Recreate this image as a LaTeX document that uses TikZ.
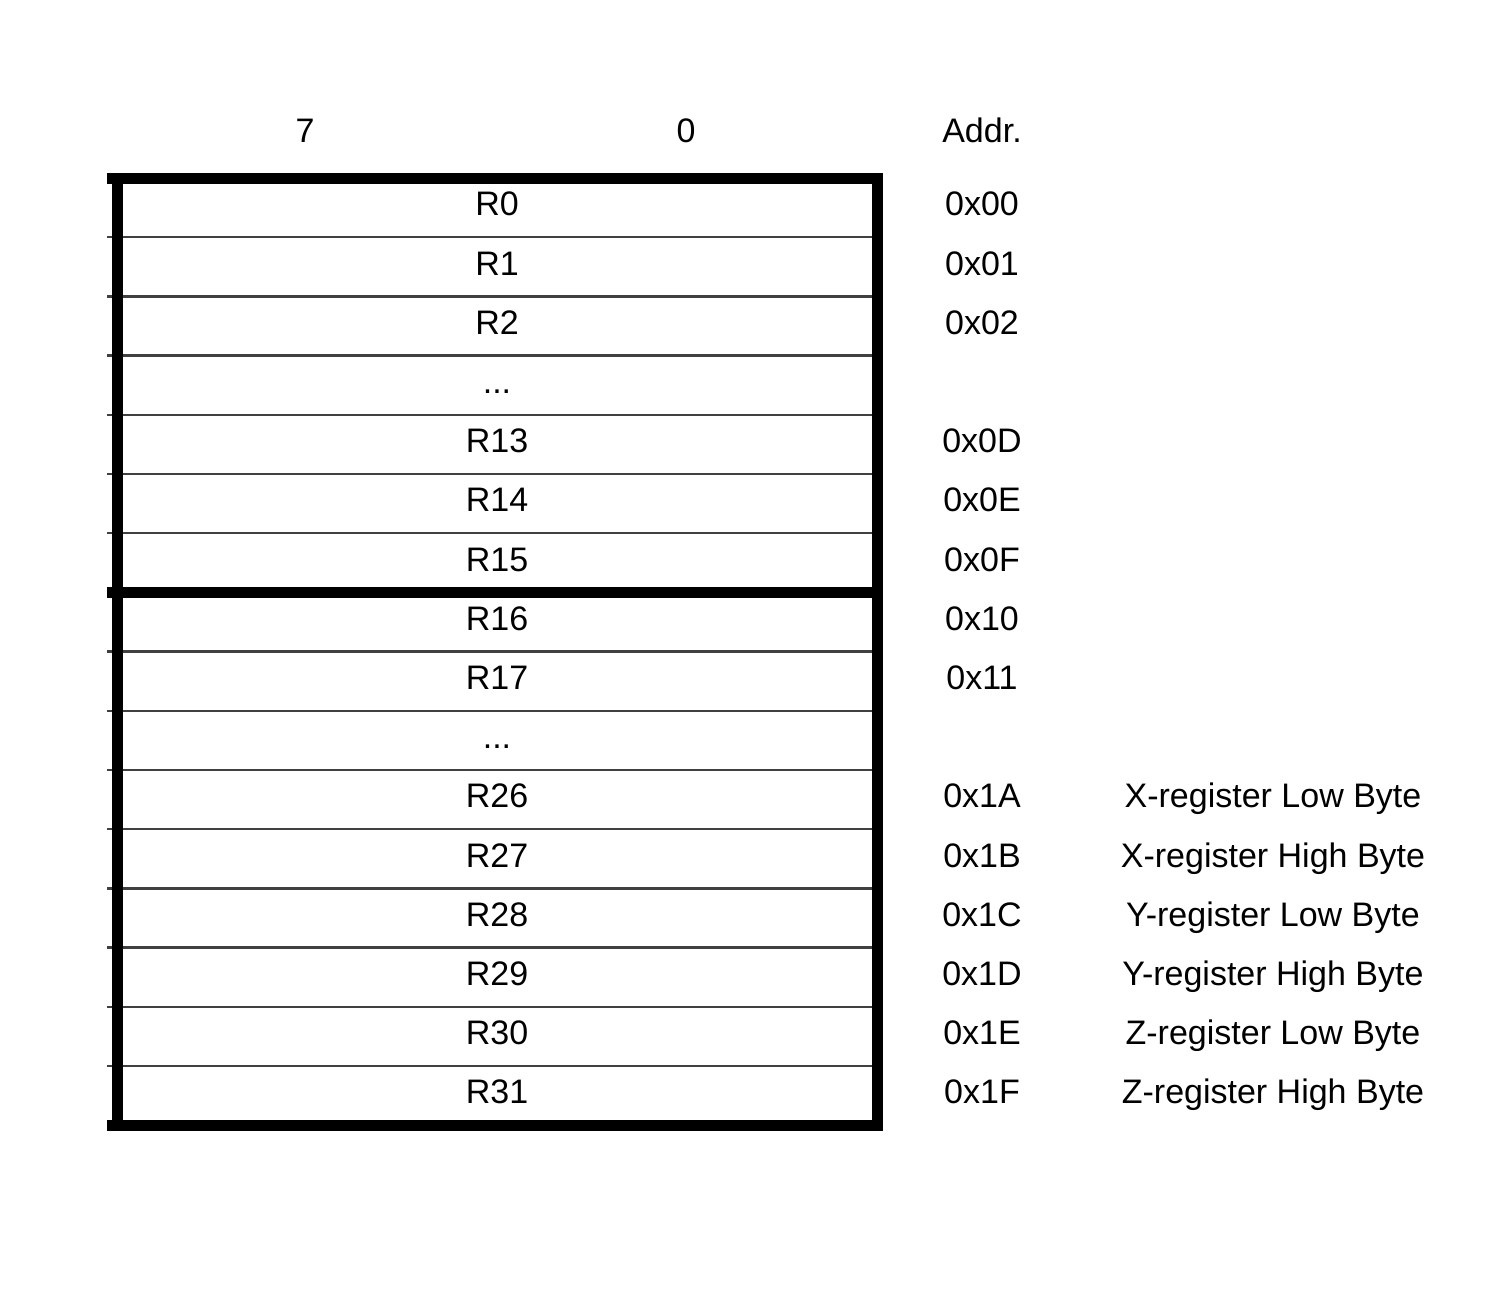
\documentclass[tikz,border=0pt]{standalone}
\usepackage{fontspec}
\setmainfont{Liberation Sans}
\usetikzlibrary{positioning}

\begin{document}
\begin{tikzpicture}[every node/.style={font=\fontsize{17pt}{20pt}\selectfont,text height=12.2pt,text depth=4pt,inner sep=0pt,outer sep=0pt},
				block/.style={minimum width=380pt,minimum height=29.6pt,draw=black!75,line width=1.2pt,rectangle,node distance=0pt},
				frame/.style={line width=5.5pt},
				tick/.style={draw=black!75,line width=1.2pt}]
				\useasboundingbox (0,0) rectangle (756pt,-645.5pt);
				\node (R0)    [block,anchor=north west] at (58.5pt,-89pt) {R0};
				\node (R1)    [block,below=of R0]    {R1};
				\node (R2)    [block,below=of R1]    {R2};
				\node (DOTA)  [block,below=of R2]    {...};
				\node (R13)   [block,below=of DOTA]  {R13};
				\node (R14)   [block,below=of R13]   {R14};
				\node (R15)   [block,below=of R14]   {R15};
				\node (R16)   [block,below=of R15]   {R16};
				\node (R17)   [block,below=of R16]   {R17};
				\node (DOTB)  [block,below=of R17]   {...};
				\node (R26)   [block,below=of DOTB]  {R26};
				\node (R27)   [block,below=of R26]   {R27};
				\node (R28)   [block,below=of R27]   {R28};
				\node (R29)   [block,below=of R28]   {R29};
				\node (R30)   [block,below=of R29]   {R30};
				\node (R31)   [block,below=of R30]   {R31};
				
				\node (BIT7)  at ([xshift=94pt,yshift=22pt]R0.north west)    {7};
				\node (BIT0)  at ([xshift=284.5pt,yshift=22pt]R0.north west) {0};
				
				\node (A0)    at ([xshift=52.5pt]R0.east)  {0x00};
				\node (A1)    at ([xshift=52.5pt]R1.east)  {0x01};
				\node (A2)    at ([xshift=52.5pt]R2.east)  {0x02};
				\node (A13)   at ([xshift=52.5pt]R13.east) {0x0D};
				\node (A14)   at ([xshift=52.5pt]R14.east) {0x0E};
				\node (A15)   at ([xshift=52.5pt]R15.east) {0x0F};
				\node (A16)   at ([xshift=52.5pt]R16.east) {0x10};
				\node (A17)   at ([xshift=52.5pt]R17.east) {0x11};
				\node (A26)   at ([xshift=52.5pt]R26.east) {0x1A};
				\node (A27)   at ([xshift=52.5pt]R27.east) {0x1B};
				\node (A28)   at ([xshift=52.5pt]R28.east) {0x1C};
				\node (A29)   at ([xshift=52.5pt]R29.east) {0x1D};
				\node (A30)   at ([xshift=52.5pt]R30.east) {0x1E};
				\node (A31)   at ([xshift=52.5pt]R31.east) {0x1F};
				\node (ADDR)  at ([yshift=36.8pt]A0)       {Addr.};
				
				\node (XLOW)  at ([xshift=198pt]R26.east) {X-register Low Byte};
				\node (XHIGH) at ([xshift=198pt]R27.east) {X-register High Byte};
				\node (YLOW)  at ([xshift=198pt]R28.east) {Y-register Low Byte};
				\node (YHIGH) at ([xshift=198pt]R29.east) {Y-register High Byte};
				\node (ZLOW)  at ([xshift=198pt]R30.east) {Z-register Low Byte};
				\node (ZHIGH) at ([xshift=198pt]R31.east) {Z-register High Byte};
				
				\draw[tick] (R0.south west) -- ++(-5pt,0) (R1.south west) -- ++(-5pt,0)
					(R2.south west) -- ++(-5pt,0) (DOTA.south west) -- ++(-5pt,0)
					(R13.south west) -- ++(-5pt,0) (R14.south west) -- ++(-5pt,0)
					(R16.south west) -- ++(-5pt,0) (R17.south west) -- ++(-5pt,0)
					(DOTB.south west) -- ++(-5pt,0) (R26.south west) -- ++(-5pt,0)
					(R27.south west) -- ++(-5pt,0) (R28.south west) -- ++(-5pt,0)
					(R29.south west) -- ++(-5pt,0) (R30.south west) -- ++(-5pt,0);
				\draw[frame] (R0.north west) -- (R31.south west);
				\draw[frame] ([xshift=-5pt]R0.north west) -- (R0.north east) -- (R31.south east) -- ([xshift=-5pt]R31.south west);
				\draw[frame] ([xshift=-5pt]R15.south west) -- (R15.south east);
			\end{tikzpicture}
\end{document}
